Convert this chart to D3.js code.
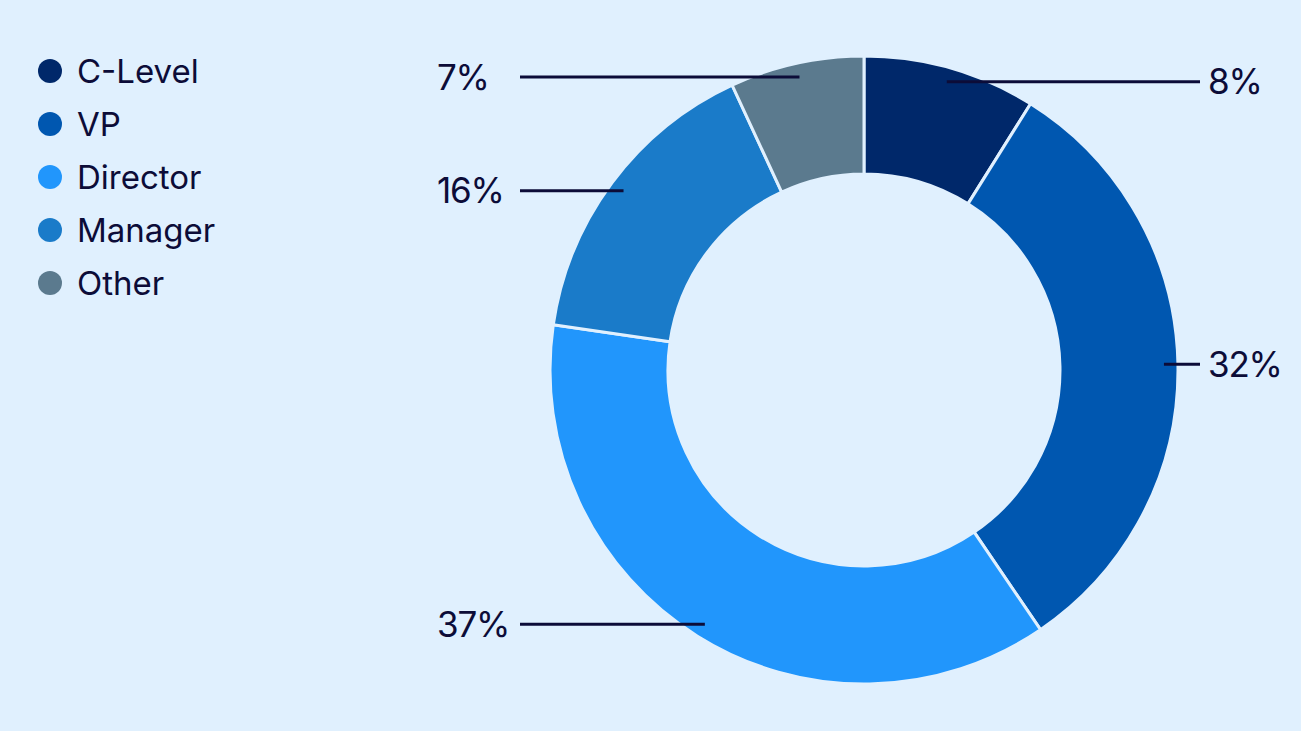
<!DOCTYPE html>
<html>
<head>
<meta charset="utf-8">
<script src="https://cdn.jsdelivr.net/npm/d3@7"></script>
<style>
  html, body { margin: 0; padding: 0; background: #e0f0fe; }
  svg { display: block; font-family: "Inter", "Lato", sans-serif; }
</style>
</head>
<body>
<script>
var w = 1301;
var h = 731;

// data
var categories = ["C-Level", "VP", "Director", "Manager", "Other"];
var shares = [8.9, 31.6, 36.8, 15.8, 6.9];
var shareLabels = ["8%", "32%", "37%", "16%", "7%"];
var colors = ["#00286a", "#0057b0", "#2196fc", "#1a7bc9", "#5b7a8e"];

var cx = 864, cy = 370;
var outerR = 314, innerR = 196;
var inkColor = "#0c0c38";

var svg = d3.select("body")
    .append("svg")
    .attr("width", w)
    .attr("height", h);

svg.append("rect")
    .attr("width", w)
    .attr("height", h)
    .attr("fill", "#e0f0fe");

var pie = d3.pie()
    .sort(null)
    .value(function(d) { return d; });

var arc = d3.arc()
    .innerRadius(innerR)
    .outerRadius(outerR);

var arcs = pie(shares);

var g = svg.append("g")
    .attr("transform", "translate(" + cx + "," + cy + ")");

g.selectAll("path.slice")
    .data(arcs)
    .enter()
    .append("path")
    .attr("class", "slice")
    .attr("d", arc)
    .attr("fill", function(d, i) { return colors[i]; })
    .attr("stroke", "#e0f0fe")
    .attr("stroke-width", 3);

// leader lines: horizontal from a point near the outer rim out to the label
var anchorR = 300;
function anchor(d) {
    var a = (d.startAngle + d.endAngle) / 2;
    return [Math.sin(a) * anchorR, -Math.cos(a) * anchorR];
}
var leftEdge = 520 - cx, rightEdge = 1200 - cx;

g.selectAll("line.leader")
    .data(arcs)
    .enter()
    .append("line")
    .attr("class", "leader")
    .attr("x1", function(d) { return anchor(d)[0]; })
    .attr("y1", function(d) { return anchor(d)[1]; })
    .attr("x2", function(d) { return anchor(d)[0] > 0 ? rightEdge : leftEdge; })
    .attr("y2", function(d) { return anchor(d)[1]; })
    .attr("stroke", inkColor)
    .attr("stroke-width", 3);

g.selectAll("text.pct")
    .data(arcs)
    .enter()
    .append("text")
    .attr("class", "pct")
    .attr("x", function(d) { return anchor(d)[0] > 0 ? rightEdge + 8 : 437 - cx; })
    .attr("y", function(d) { return anchor(d)[1]; })
    .attr("dy", "0.36em")
    .attr("font-size", 35)
    .attr("letter-spacing", -1.2)
    .attr("fill", inkColor)
    .text(function(d, i) { return shareLabels[i]; });

// legend
var legend = svg.append("g")
    .attr("transform", "translate(50,71)");

var rows = legend.selectAll("g.row")
    .data(categories)
    .enter()
    .append("g")
    .attr("class", "row")
    .attr("transform", function(d, i) { return "translate(0," + i * 53 + ")"; });

rows.append("circle")
    .attr("r", 12)
    .attr("fill", function(d, i) { return colors[i]; });

rows.append("text")
    .attr("x", 27)
    .attr("dy", "0.36em")
    .attr("font-size", 33)
    .attr("fill", inkColor)
    .text(function(d) { return d; });
</script>
</body>
</html>
